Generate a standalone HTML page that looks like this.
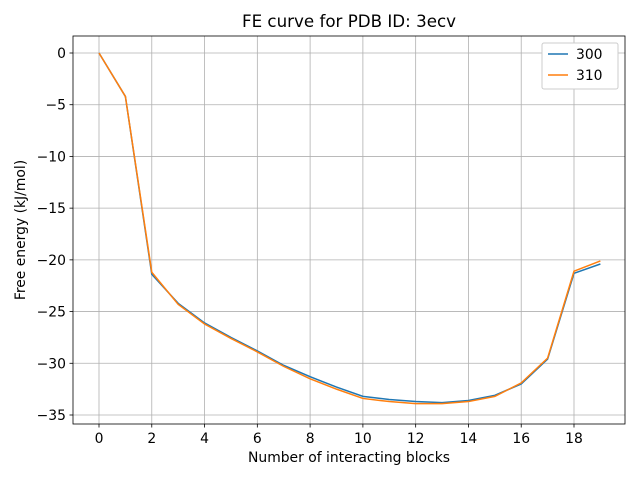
<!DOCTYPE html>
<html><head><meta charset="utf-8"><style>
body{margin:0;background:#fff;font-family:"Liberation Sans","DejaVu Sans",sans-serif}
svg text{font-family:"DejaVu Sans","Liberation Sans",sans-serif}
</style></head><body>
<svg id="chart" width="640" height="480" xmlns="http://www.w3.org/2000/svg">
<rect width="640" height="480" fill="#fff"/>
<g id="grid"></g><g id="series"></g><g id="axes"></g>
<text x="349" y="27" font-size="16.7" text-anchor="middle">FE curve for PDB ID: 3ecv</text>
<text x="349" y="462" font-size="13.9" text-anchor="middle">Number of interacting blocks</text>
<text transform="translate(25,230) rotate(-90)" font-size="13.9" text-anchor="middle">Free energy (kJ/mol)</text>
<g>
<rect x="542" y="43" width="76" height="46" fill="#fff" stroke="#ccc" rx="2"/>
<line x1="548" y1="54" x2="568" y2="54" stroke="#1f77b4" stroke-width="1.5"/>
<text x="576" y="59" font-size="13.9">300</text>
<line x1="548" y1="75" x2="568" y2="75" stroke="#ff7f0e" stroke-width="1.5"/>
<text x="576" y="80" font-size="13.9">310</text>
</g>
</svg>
<script>
const blocks=[0,1,2,3,4,5,6,7,8,9,10,11,12,13,14,15,16,17,18,19];
const fe300=[0,-4.2,-21.4,-24.2,-26.1,-27.5,-28.8,-30.2,-31.3,-32.3,-33.2,-33.5,-33.7,-33.8,-33.6,-33.1,-32.0,-29.6,-21.3,-20.4];
const fe310=[0,-4.2,-21.2,-24.3,-26.2,-27.6,-28.9,-30.3,-31.5,-32.5,-33.4,-33.7,-33.9,-33.9,-33.7,-33.2,-31.9,-29.5,-21.1,-20.1];
const xTicks=[0,2,4,6,8,10,12,14,16,18];
const yTicks=[0,-5,-10,-15,-20,-25,-30,-35];
const L=73,R=625,T=36,B=424;
const sx=v=>99+v*(574-99)/18;
const sy=v=>53+(-v)*(415-53)/35;
const NS="http://www.w3.org/2000/svg";
function mk(p,tag,a){const e=document.createElementNS(NS,tag);for(const k in a)e.setAttribute(k,a[k]);p.appendChild(e);return e;}
const g=document.getElementById('grid'),ax=document.getElementById('axes'),s=document.getElementById('series');
xTicks.forEach(t=>{const x=sx(t);
const l=mk(g,'line',{x1:x,x2:x,y1:T,y2:B,stroke:'#b0b0b0','stroke-width':0.8});


mk(ax,'line',{x1:x,x2:x,y1:B,y2:B+3.5,stroke:'#000','stroke-width':0.8});
const tx=mk(ax,'text',{x:x,y:B+19,'font-size':13.9,'text-anchor':'middle'});tx.textContent=t;

});
yTicks.forEach(t=>{const y=sy(t);
const l=mk(g,'line',{x1:L,x2:R,y1:y,y2:y,stroke:'#b0b0b0','stroke-width':0.8});


mk(ax,'line',{x1:L-3.5,x2:L,y1:y,y2:y,stroke:'#000','stroke-width':0.8});
const tx=mk(ax,'text',{x:L-7,y:y+5,'font-size':13.9,'text-anchor':'end'});tx.textContent=t===0?'0':'\u2212'+(-t);

});
const fr=mk(ax,'rect',{x:L,y:T,width:R-L,height:B-T,fill:'none',stroke:'#000','stroke-width':0.8});


[[fe300,'#1f77b4','line-300'],[fe310,'#ff7f0e','line-310']].forEach(([d,c,n])=>{
const p=mk(s,'polyline',{points:blocks.map((b,i)=>sx(b)+','+sy(d[i])).join(' '),fill:'none',stroke:c,'stroke-width':1.5});

});
</script>
</body></html>
